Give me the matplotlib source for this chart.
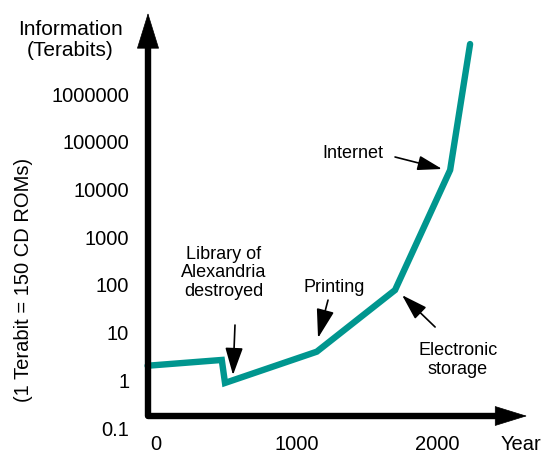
import matplotlib
matplotlib.use("Agg")
import matplotlib.pyplot as plt
import numpy as np

# ---- data ----
years = [-60, 468, 491, 1144, 1701, 2093, 2235]
info_terabits = [2.02, 2.67, 0.88, 3.98, 78, 25600, 1.12e7]
y_ticks = [0.1, 1, 10, 100, 1000, 10000, 100000, 1000000]
y_tick_labels = ["0.1", "1", "10", "100", "1000", "10000", "100000", "1000000"]
x_ticks = [0, 1000, 2000]
x_tick_labels = ["0", "1000", "2000"]

TEAL = "#00968f"
W, H = 543, 454
plt.rcParams["font.family"] = ["Liberation Sans", "DejaVu Sans"]

fig = plt.figure(figsize=(W / 100, H / 100), dpi=100)
# axes box in pixels: left 148, right 527, top 13, bottom 428
ax = fig.add_axes([148 / W, 1 - 428 / H, (527 - 148) / W, (428 - 13) / H])
ax.set_yscale("log")
ax.set_xlim(-57, 2640)
ax.set_ylim(0.1, 10 ** 7.70)
for s in ax.spines.values():
    s.set_visible(False)
ax.set_facecolor("none")

ax.set_yticks(y_ticks)
ax.set_yticklabels(y_tick_labels)
ax.set_xticks(x_ticks)
ax.set_xticklabels(x_tick_labels)
ax.minorticks_off()
ax.tick_params(axis="y", length=0, pad=13.5, labelsize=14.5)
ax.tick_params(axis="x", length=0, pad=5.2, labelsize=14.5)

# axis arrows (axes fraction)
fy = (428 - 416) / 415.0
y_head_base = (428 - 46) / 415.0
x_head_base = (497 - 148) / 379.0
ax.plot([0, 0, x_head_base], [y_head_base, fy, fy], color="black", lw=4.6,
        transform=ax.transAxes, clip_on=False, solid_joinstyle="round",
        solid_capstyle="butt", zorder=3)
ax.annotate("", xy=(0, 1), xytext=(0, y_head_base - 0.01), xycoords="axes fraction",
            arrowprops=dict(arrowstyle="-|>,head_length=2.45,head_width=0.76",
                            mutation_scale=10, lw=0.5, color="black",
                            shrinkA=0, shrinkB=0), annotation_clip=False, zorder=3)
ax.annotate("", xy=(1, fy), xytext=(x_head_base - 0.01, fy), xycoords="axes fraction",
            arrowprops=dict(arrowstyle="-|>,head_length=2.2,head_width=0.68",
                            mutation_scale=10, lw=0.5, color="black",
                            shrinkA=0, shrinkB=0), annotation_clip=False, zorder=3)

# data line
ax.plot(years, info_terabits, color=TEAL, lw=4.6, solid_joinstyle="miter",
        solid_capstyle="round", clip_on=False, zorder=2)

# annotations
def note(xy, xytext, hl, hw):
    ax.annotate("", xy=xy, xytext=xytext,
                arrowprops=dict(arrowstyle=f"-|>,head_length={hl},head_width={hw}",
                                mutation_scale=10, lw=1.2, color="black",
                                shrinkA=0, shrinkB=0), annotation_clip=False)

ax.text(484, 178, "Library of\nAlexandria\ndestroyed", ha="center", va="center",
        fontsize=13, linespacing=1.12)
note((548, 1.29), (562, 14.4), 1.7, 0.55)
ax.text(1267, 90, "Printing", ha="center", va="center", fontsize=13)
note((1153, 7.7), (1224, 48), 1.8, 0.55)
ax.text(2149, 2.67, "Electronic\nstorage", ha="center", va="center",
        fontsize=13, linespacing=1.12)
note((1751, 61), (1986, 13.1), 1.6, 0.5)
ax.text(1402, 58200, "Internet", ha="center", va="center", fontsize=13)
note((2036, 26900), (1701, 48000), 1.5, 0.45)

fig.text(70 / W, 1 - 40 / H, "Information\n(Terabits)", ha="center", va="center",
         fontsize=15, linespacing=1.1)
fig.text(24 / W, 1 - 280 / H, "(1 Terabit = 150 CD ROMs)", ha="center", va="center",
         rotation=90, fontsize=14.5)
fig.text(521 / W, 1 - 444 / H, "Year", ha="center", va="center", fontsize=14.5)

fig.savefig("out.png", dpi=100, facecolor="white")
